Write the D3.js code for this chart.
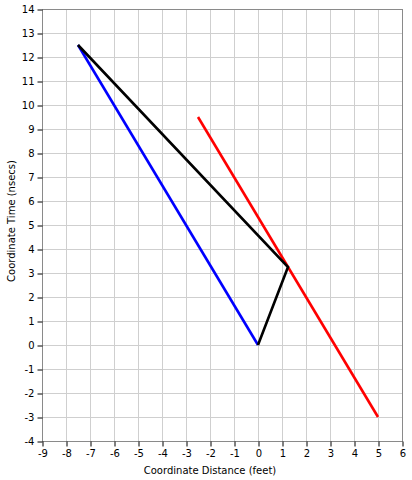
<!DOCTYPE html>
<html><head><meta charset="utf-8">
<script src="https://cdn.jsdelivr.net/npm/d3@7"></script>
<style>body{margin:0;background:#fff}text{font-family:"DejaVu Sans",sans-serif;font-size:10px;fill:#000}</style>
</head><body><svg id="c" width="412" height="480"></svg>
<script>
const xTicks = [-9,-8,-7,-6,-5,-4,-3,-2,-1,0,1,2,3,4,5,6];
const yTicks = [-4,-3,-2,-1,0,1,2,3,4,5,6,7,8,9,10,11,12,13,14];
const blueX = [0, -7.5];
const blueY = [0, 12.5];
const blackX = [-7.5, 1.25, 0];
const blackY = [12.5, 3.25, 0];
const redX = [-2.5, 5];
const redY = [9.5, -3];
const xLabel = "Coordinate Distance (feet)";
const yLabel = "Coordinate Time (nsecs)";

const svg = d3.select("#c");
const L=42,R=402,T=9,B=441;
const x = d3.scaleLinear().domain([-9,6]).range([L,R]);
const y = d3.scaleLinear().domain([-4,14]).range([B,T]);

const g = svg.append("g");
g.selectAll(".vg").data(xTicks).join("line")
 .attr("x1",d=>x(d)+0.5).attr("x2",d=>x(d)+0.5).attr("y1",T).attr("y2",B)
 .attr("stroke","#cfcfcf").attr("stroke-width",1);
g.selectAll(".hg").data(yTicks).join("line")
 .attr("y1",d=>y(d)+0.5).attr("y2",d=>y(d)+0.5).attr("x1",L).attr("x2",R)
 .attr("stroke","#cfcfcf").attr("stroke-width",1);
svg.append("rect").attr("x",L+0.5).attr("y",T+0.5).attr("width",R-L).attr("height",B-T)
 .attr("fill","none").attr("stroke","#8a8a8a");

const fmt = d => String(d);
const xa = svg.append("g").attr("transform",`translate(0.5,${B+0.5})`)
 .call(d3.axisBottom(x).tickValues(xTicks).tickFormat(fmt).tickSize(5).tickPadding(3));
const ya = svg.append("g").attr("transform",`translate(${L+0.5},0.5)`)
 .call(d3.axisLeft(y).tickValues(yTicks).tickFormat(fmt).tickSize(5).tickPadding(3));
[xa,ya].forEach(a=>{
 a.selectAll(".tick line").attr("stroke","#000");
 a.selectAll("text").attr("font-family","'DejaVu Sans',sans-serif").attr("font-size",10.5).attr("fill","#000");
 a.select(".domain").remove();});

const line = d3.line().x(d=>x(d[0])).y(d=>y(d[1]));
function draw(xs,ys,c){svg.append("path").datum(xs.map((v,i)=>[v,ys[i]]))
 .attr("d",line).attr("fill","none").attr("stroke",c).attr("stroke-width",2.6).attr("stroke-linejoin","miter");}
draw(blueX,blueY,"#0000ff");
draw(redX,redY,"#ff0000");
draw(blackX,blackY,"#000000");

svg.append("text").attr("x",(L+R)/2-12).attr("y",474).attr("text-anchor","middle").text(xLabel);
svg.append("text").attr("transform",`translate(15,${(T+B)/2 - 4}) rotate(-90)`).attr("text-anchor","middle").text(yLabel);
</script></body></html>
